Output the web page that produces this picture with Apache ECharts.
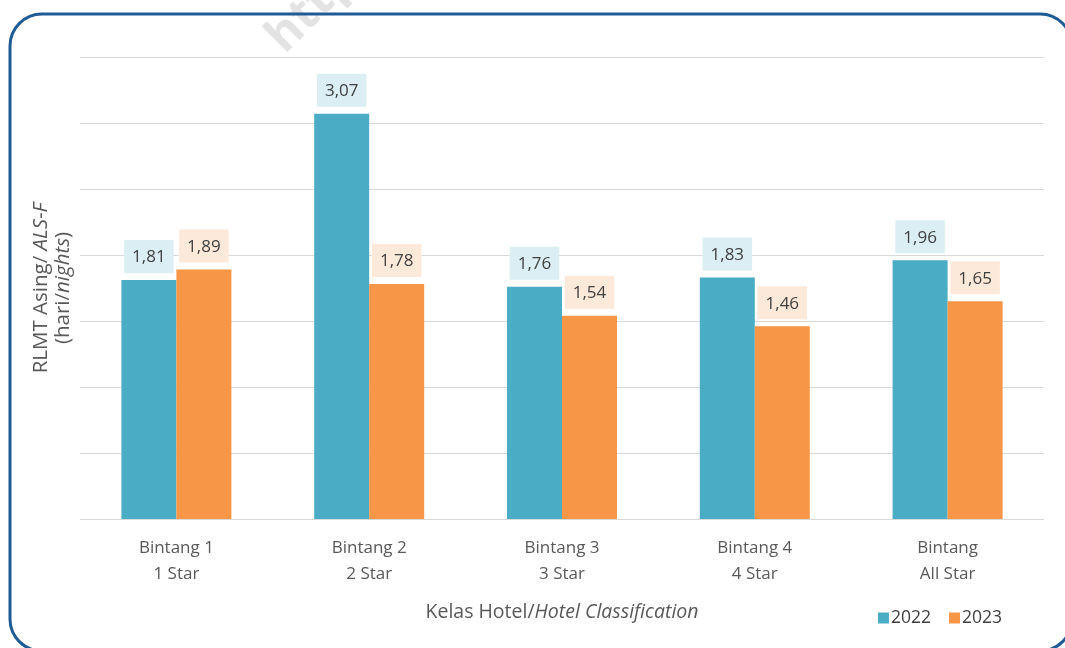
<!DOCTYPE html>
<html>
<head>
<meta charset="utf-8">
<title>RLMT Asing</title>
<script src="https://cdn.jsdelivr.net/npm/echarts@6/dist/echarts.min.js"></script>
<style>
  html, body { margin: 0; padding: 0; background: #fff; }
  #chart { width: 1065px; height: 648px; }
</style>
</head>
<body>
<div id="chart"></div>
<script>
// data
const categories = ['Bintang 1\n1 Star', 'Bintang 2\n2 Star', 'Bintang 3\n3 Star', 'Bintang 4\n4 Star', 'Bintang\nAll Star']
const values2022 = [1.81, 3.07, 1.76, 1.83, 1.96]
const values2023 = [1.89, 1.78, 1.54, 1.46, 1.65]
const seriesNames = ['2022', '2023']

const FONT = 'Open Sans'
const fmt = p => p.value.toFixed(2).replace('.', ',')

const chart = echarts.init(document.getElementById('chart'))
chart.setOption({
  animation: false,
  textStyle: { fontFamily: FONT },
  grid: { left: 80, right: 21, top: 57, bottom: 129 },
  legend: {
    data: seriesNames,
    right: 58,
    top: 604,
    itemWidth: 11,
    itemHeight: 11,
    itemGap: 18,
    icon: 'rect',
    textStyle: { fontFamily: FONT, fontSize: 17.5, color: '#404040', padding: [0, 0, 0, -3] }
  },
  xAxis: {
    type: 'category',
    data: categories,
    axisLine: { show: false },
    axisTick: { show: false },
    axisLabel: { fontFamily: FONT, fontSize: 17, color: '#595959', lineHeight: 26, margin: 16 },
    name: '{n|Kelas Hotel/}{i|Hotel Classification}',
    nameLocation: 'middle',
    nameGap: 83,
    nameTextStyle: {
      fontSize: 19.5,
      rich: {
        n: { fontFamily: FONT, fontSize: 19.5, color: '#595959' },
        i: { fontFamily: FONT, fontSize: 19.5, color: '#595959', fontStyle: 'italic' }
      }
    }
  },
  yAxis: {
    type: 'value',
    min: 0,
    max: 3.5,
    interval: 0.5,
    axisLabel: { show: false },
    axisLine: { show: false },
    axisTick: { show: false },
    splitLine: { lineStyle: { color: '#d9d9d9', width: 1 } },
    name: '{n|RLMT Asing/ }{i|ALS-F}\n{n|(hari/}{i|nights}{n|)}',
    nameLocation: 'middle',
    nameGap: 6,
    nameTextStyle: {
      fontSize: 20.5,
      lineHeight: 22,
      rich: {
        n: { fontFamily: FONT, fontSize: 20.5, color: '#595959', lineHeight: 22 },
        i: { fontFamily: FONT, fontSize: 20.5, color: '#595959', fontStyle: 'italic', lineHeight: 22 }
      }
    }
  },
  series: [
    {
      name: seriesNames[0],
      type: 'bar',
      data: values2022,
      barWidth: 55,
      barGap: '0%',
      itemStyle: { color: '#4BACC6' },
      label: {
        show: true,
        position: 'top',
        distance: 7,
        formatter: fmt,
        fontFamily: FONT,
        fontSize: 17,
        color: '#404040',
        backgroundColor: '#DAEEF3',
        padding: [9, 8, 7, 8]
      }
    },
    {
      name: seriesNames[1],
      type: 'bar',
      data: values2023,
      barWidth: 55,
      itemStyle: { color: '#F79646' },
      label: {
        show: true,
        position: 'top',
        distance: 7,
        formatter: fmt,
        fontFamily: FONT,
        fontSize: 17,
        color: '#404040',
        backgroundColor: '#FDE9D9',
        padding: [9, 8, 7, 8]
      }
    }
  ],
  graphic: [
    {
      type: 'rect',
      silent: true,
      shape: { x: 10, y: 14, width: 1062, height: 637, r: 32 },
      style: { fill: 'none', stroke: '#1F5B94', lineWidth: 3 },
      z: 10
    },
    {
      type: 'text',
      silent: true,
      x: 292,
      y: 62,
      rotation: Math.PI / 4,
      style: { text: 'https', fill: '#e3e3e3', font: 'bold 48px "Open Sans"', textVerticalAlign: 'bottom' },
      z: 0
    }
  ]
})
</script>
</body>
</html>
